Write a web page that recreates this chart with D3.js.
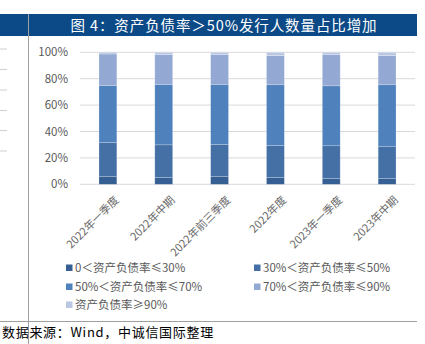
<!DOCTYPE html>
<html>
<head>
<meta charset="utf-8">
<script src="https://cdn.jsdelivr.net/npm/d3@7/dist/d3.min.js"></script>
<style>
  html, body { margin: 0; padding: 0; background: #fff; }
  svg { display: block; }
  text { font-family: "Noto Sans CJK SC", "Noto Sans", sans-serif; }
</style>
</head>
<body>
<svg id="chart" width="425" height="344"></svg>
<script>
// Reporting periods
const categories = ["2022年一季度", "2022年中期", "2022年前三季度", "2022年度", "2023年一季度", "2023年中期"];

// Share of issuers (%) in each debt-to-asset bucket
const seriesNames = ["0＜资产负债率≤30%", "30%＜资产负债率≤50%", "50%＜资产负债率≤70%", "70%＜资产负债率≤90%", "资产负债率≥90%"];
const band0to30  = [5.8, 5.1, 5.8, 5.1, 4.3, 4.3];
const band30to50 = [26.0, 24.8, 24.3, 24.3, 24.9, 24.2];
const band50to70 = [42.9, 45.8, 45.6, 46.0, 45.4, 46.9];
const band70to90 = [24.0, 22.5, 22.5, 22.1, 23.6, 22.1];
const bandOver90 = [1.3, 1.8, 1.8, 2.5, 1.8, 2.5];

const yTicks = [0, 20, 40, 60, 80, 100];
const colors = ["#365f93", "#4570a6", "#4f81bd", "#93a9d3", "#b9c7e2"];

const svg = d3.select("#chart");

// Header bar and page rules
svg.append("rect").attr("x", 0).attr("y", 14).attr("width", 417).attr("height", 22).attr("fill", "#0b4a86");
svg.append("text").attr("x", 224).attr("y", 30.5).attr("text-anchor", "middle")
  .attr("fill", "#fff").attr("font-size", 14.5).attr("font-weight", 400)
  .attr("letter-spacing", 0.9)
  .text("图 4：资产负债率＞50%发行人数量占比增加");
svg.append("line").attr("x1", 28.5).attr("x2", 28.5).attr("y1", 14).attr("y2", 344)
  .attr("stroke", "#a0a0a0").attr("stroke-width", 1);
svg.append("line").attr("x1", 0).attr("x2", 417).attr("y1", 321.5).attr("y2", 321.5)
  .attr("stroke", "#a0a0a0").attr("stroke-width", 1.2);
[49, 69.5, 90, 110.5, 130.5, 151].forEach(y => {
  svg.append("line").attr("x1", 0).attr("x2", 7).attr("y1", y).attr("y2", y)
    .attr("stroke", "#d0d0d0").attr("stroke-width", 1);
});

// Plot area
const x = d3.scaleBand().domain(categories).range([80, 415]).paddingInner(0.68).paddingOuter(0.34);
const y = d3.scaleLinear().domain([0, 100]).range([184.3, 52.3]);

const grid = svg.append("g");
yTicks.forEach(t => {
  grid.append("line").attr("x1", 80).attr("x2", 415)
    .attr("y1", y(t)).attr("y2", y(t))
    .attr("stroke", "#d9d9d9").attr("stroke-width", 1);
});

const yAxis = d3.axisLeft(y).tickValues(yTicks).tickFormat(d => d + "%").tickSize(0).tickPadding(0);
const yG = svg.append("g").attr("transform", "translate(68,0)").call(yAxis);
yG.select(".domain").remove();
yG.selectAll("text").attr("fill", "#595959").attr("font-size", 11.5)
  .attr("font-family", "'Noto Sans', sans-serif");

// Stacked bars
const rows = categories.map((c, i) => ({
  cat: c, s0: band0to30[i], s1: band30to50[i], s2: band50to70[i], s3: band70to90[i], s4: bandOver90[i]
}));
const stack = d3.stack().keys(["s0", "s1", "s2", "s3", "s4"]);
const layers = stack(rows);

svg.append("g").selectAll("g").data(layers).join("g")
  .attr("fill", (d, i) => colors[i])
  .selectAll("rect").data(d => d).join("rect")
  .attr("x", d => x(d.data.cat))
  .attr("width", x.bandwidth())
  .attr("y", d => y(d[1]))
  .attr("height", d => y(d[0]) - y(d[1]))
  .attr("stroke", "#ffffff").attr("stroke-opacity", 0.35).attr("stroke-width", 0.6);

// Rotated category labels
const xAxis = d3.axisBottom(x).tickSize(0).tickPadding(0);
const xG = svg.append("g").attr("transform", "translate(0,190)").call(xAxis);
xG.select(".domain").remove();
xG.selectAll("text")
  .attr("fill", "#6a6a6a").attr("font-size", 11)
  .attr("text-anchor", "end")
  .attr("dy", "0.35em")
  .attr("transform", "translate(9,8) rotate(-45)");

// Legend
const legendPos = [[66, 268], [254, 268], [66, 287], [254, 287], [66, 305]];
const legend = svg.append("g");
seriesNames.forEach((name, i) => {
  const [lx, ly] = legendPos[i];
  legend.append("rect").attr("x", lx).attr("y", ly - 3.5).attr("width", 6.5).attr("height", 6.5).attr("fill", colors[i]);
  legend.append("text").attr("x", lx + 9).attr("y", ly).attr("dy", "0.35em")
    .attr("fill", "#595959").attr("font-size", 11.5).text(name);
});

// Source note
svg.append("text").attr("x", 2).attr("y", 337).attr("fill", "#000")
  .attr("font-size", 13).attr("letter-spacing", 0.7).text("数据来源：Wind，中诚信国际整理");
</script>
</body>
</html>
